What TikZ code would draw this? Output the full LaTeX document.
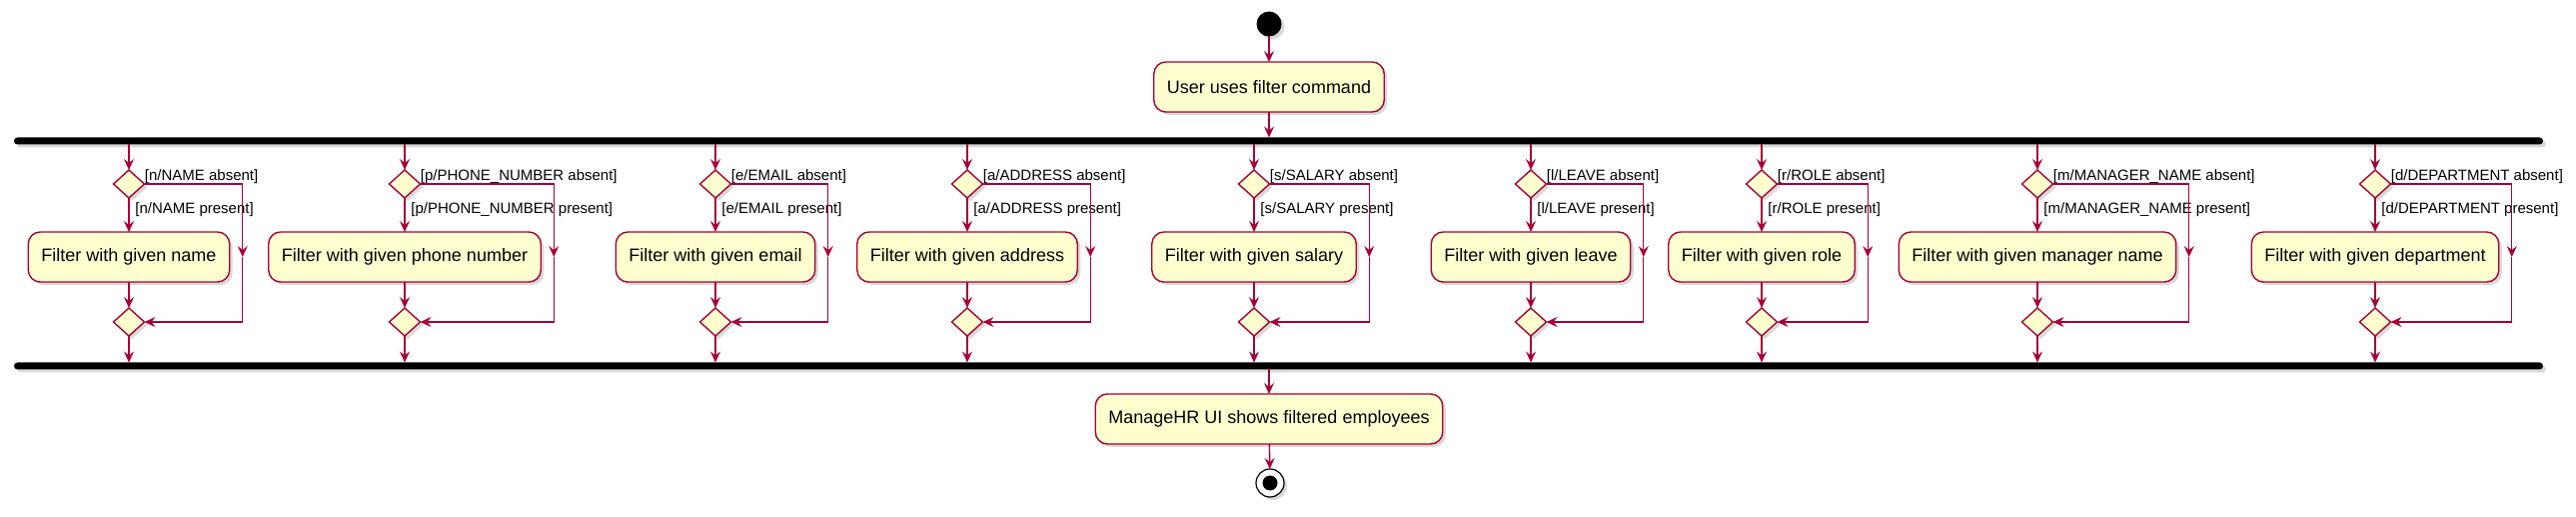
\documentclass[tikz,border=0pt]{standalone}
\usepackage{fontspec}
\setmainfont{Liberation Sans}
\usetikzlibrary{positioning,shapes.geometric,arrows.meta,shadows}
\definecolor{umlred}{HTML}{A80036}
\definecolor{umlfill}{HTML}{FEFECE}

\begin{document}
\begin{tikzpicture}[x=0.5pt,y=-0.5pt,
	umlshadow/.style={drop shadow={shadow xshift=1.5pt,shadow yshift=-1.5pt,opacity=0.3}},
	act/.style={rectangle,rounded corners=6pt,draw=umlred,fill=umlfill,line width=0.7pt,minimum height=25pt,inner xsep=6.6pt,inner ysep=0pt,outer sep=0pt,umlshadow,font=\fontsize{9pt}{11pt}\selectfont},
	choice/.style={diamond,draw=umlred,fill=umlfill,line width=0.7pt,minimum width=15.5pt,minimum height=14pt,inner sep=0pt,outer sep=0pt,umlshadow},
	syncbar/.style={rectangle,rounded corners=1.75pt,fill=black,minimum width=1265.5pt,minimum height=3.5pt,inner sep=0pt,outer sep=0pt,umlshadow},
	guard/.style={inner sep=0pt,font=\fontsize{7.5pt}{9pt}\selectfont},
	flow/.style={draw=umlred,line width=0.7pt,-{Stealth[length=5.5pt,width=5pt,inset=2pt]}}]
		\useasboundingbox (0,0) rectangle (2578,517);
		\node[circle,fill=black,minimum size=12.5pt,inner sep=0pt,outer sep=0pt,umlshadow] (start) at (1270,24) {};
		\node[act] (cmd) at (1270,87) {User uses filter command};
		\node[syncbar] (fork) at (1279.5,141) {};
		\node[syncbar] (join) at (1279.5,366) {};
		\node[act] (shows) at (1270,419) {ManageHR UI shows filtered employees};
		\node[circle,draw=black,fill=white,line width=0.6pt,minimum size=14pt,inner sep=0pt,outer sep=0pt,umlshadow] (stop) at (1271,483) {};
		\node[circle,fill=black,minimum size=7.5pt,inner sep=0pt] (stopdot) at (stop) {};
		\draw[flow] (start) -- (cmd);
		\draw[flow] (cmd) -- (cmd.south |- fork.north);
		\draw[flow] (join.south -| shows) -- (shows);
		\draw[flow] (shows) -- (stop);

		% name
		\node[choice] (d1) at (129,184) {};
		\node[act,below=17pt of d1] (a1) {Filter with given name};
		\node[choice,below=13pt of a1] (m1) {};
		\coordinate (r1) at ([xshift=6.5pt]a1.east);
		\node[guard,anchor=south west] (abs1) at (d1.east) {[n/NAME absent]};
		\node[guard,anchor=north west] (pre1) at ([xshift=3pt,yshift=-2pt]d1.south) {[n/NAME present]};
		\draw[flow] (fork.south -| d1) -- (d1); \draw[flow] (d1) -- (a1); \draw[flow] (a1) -- (m1);
		\draw[flow] (d1.east) -| (r1); \draw[flow] (r1) |- (m1.east); \draw[flow] (m1) -- (join.north -| m1);

		% phone
		\node[choice] (d2) at (405,184) {};
		\node[act,below=17pt of d2] (a2) {Filter with given phone number};
		\node[choice,below=13pt of a2] (m2) {};
		\coordinate (r2) at ([xshift=6.5pt]a2.east);
		\node[guard,anchor=south west] (abs2) at (d2.east) {[p/PHONE\_NUMBER absent]};
		\node[guard,anchor=north west] (pre2) at ([xshift=3pt,yshift=-2pt]d2.south) {[p/PHONE\_NUMBER present]};
		\draw[flow] (fork.south -| d2) -- (d2); \draw[flow] (d2) -- (a2); \draw[flow] (a2) -- (m2);
		\draw[flow] (d2.east) -| (r2); \draw[flow] (r2) |- (m2.east); \draw[flow] (m2) -- (join.north -| m2);

		% email
		\node[choice] (d3) at (716,184) {};
		\node[act,below=17pt of d3] (a3) {Filter with given email};
		\node[choice,below=13pt of a3] (m3) {};
		\coordinate (r3) at ([xshift=6.5pt]a3.east);
		\node[guard,anchor=south west] (abs3) at (d3.east) {[e/EMAIL absent]};
		\node[guard,anchor=north west] (pre3) at ([xshift=3pt,yshift=-2pt]d3.south) {[e/EMAIL present]};
		\draw[flow] (fork.south -| d3) -- (d3); \draw[flow] (d3) -- (a3); \draw[flow] (a3) -- (m3);
		\draw[flow] (d3.east) -| (r3); \draw[flow] (r3) |- (m3.east); \draw[flow] (m3) -- (join.north -| m3);

		% address
		\node[choice] (d4) at (968,184) {};
		\node[act,below=17pt of d4] (a4) {Filter with given address};
		\node[choice,below=13pt of a4] (m4) {};
		\coordinate (r4) at ([xshift=6.5pt]a4.east);
		\node[guard,anchor=south west] (abs4) at (d4.east) {[a/ADDRESS absent]};
		\node[guard,anchor=north west] (pre4) at ([xshift=3pt,yshift=-2pt]d4.south) {[a/ADDRESS present]};
		\draw[flow] (fork.south -| d4) -- (d4); \draw[flow] (d4) -- (a4); \draw[flow] (a4) -- (m4);
		\draw[flow] (d4.east) -| (r4); \draw[flow] (r4) |- (m4.east); \draw[flow] (m4) -- (join.north -| m4);

		% salary
		\node[choice] (d5) at (1255,184) {};
		\node[act,below=17pt of d5] (a5) {Filter with given salary};
		\node[choice,below=13pt of a5] (m5) {};
		\coordinate (r5) at ([xshift=6.5pt]a5.east);
		\node[guard,anchor=south west] (abs5) at (d5.east) {[s/SALARY absent]};
		\node[guard,anchor=north west] (pre5) at ([xshift=3pt,yshift=-2pt]d5.south) {[s/SALARY present]};
		\draw[flow] (fork.south -| d5) -- (d5); \draw[flow] (d5) -- (a5); \draw[flow] (a5) -- (m5);
		\draw[flow] (d5.east) -| (r5); \draw[flow] (r5) |- (m5.east); \draw[flow] (m5) -- (join.north -| m5);

		% leave
		\node[choice] (d6) at (1532,184) {};
		\node[act,below=17pt of d6] (a6) {Filter with given leave};
		\node[choice,below=13pt of a6] (m6) {};
		\coordinate (r6) at ([xshift=6.5pt]a6.east);
		\node[guard,anchor=south west] (abs6) at (d6.east) {[l/LEAVE absent]};
		\node[guard,anchor=north west] (pre6) at ([xshift=3pt,yshift=-2pt]d6.south) {[l/LEAVE present]};
		\draw[flow] (fork.south -| d6) -- (d6); \draw[flow] (d6) -- (a6); \draw[flow] (a6) -- (m6);
		\draw[flow] (d6.east) -| (r6); \draw[flow] (r6) |- (m6.east); \draw[flow] (m6) -- (join.north -| m6);

		% role
		\node[choice] (d7) at (1763,184) {};
		\node[act,below=17pt of d7] (a7) {Filter with given role};
		\node[choice,below=13pt of a7] (m7) {};
		\coordinate (r7) at ([xshift=6.5pt]a7.east);
		\node[guard,anchor=south west] (abs7) at (d7.east) {[r/ROLE absent]};
		\node[guard,anchor=north west] (pre7) at ([xshift=3pt,yshift=-2pt]d7.south) {[r/ROLE present]};
		\draw[flow] (fork.south -| d7) -- (d7); \draw[flow] (d7) -- (a7); \draw[flow] (a7) -- (m7);
		\draw[flow] (d7.east) -| (r7); \draw[flow] (r7) |- (m7.east); \draw[flow] (m7) -- (join.north -| m7);

		% manager
		\node[choice] (d8) at (2039,184) {};
		\node[act,below=17pt of d8] (a8) {Filter with given manager name};
		\node[choice,below=13pt of a8] (m8) {};
		\coordinate (r8) at ([xshift=6.5pt]a8.east);
		\node[guard,anchor=south west] (abs8) at (d8.east) {[m/MANAGER\_NAME absent]};
		\node[guard,anchor=north west] (pre8) at ([xshift=3pt,yshift=-2pt]d8.south) {[m/MANAGER\_NAME present]};
		\draw[flow] (fork.south -| d8) -- (d8); \draw[flow] (d8) -- (a8); \draw[flow] (a8) -- (m8);
		\draw[flow] (d8.east) -| (r8); \draw[flow] (r8) |- (m8.east); \draw[flow] (m8) -- (join.north -| m8);

		% department
		\node[choice] (d9) at (2377,184) {};
		\node[act,below=17pt of d9] (a9) {Filter with given department};
		\node[choice,below=13pt of a9] (m9) {};
		\coordinate (r9) at ([xshift=6.5pt]a9.east);
		\node[guard,anchor=south west] (abs9) at (d9.east) {[d/DEPARTMENT absent]};
		\node[guard,anchor=north west] (pre9) at ([xshift=3pt,yshift=-2pt]d9.south) {[d/DEPARTMENT present]};
		\draw[flow] (fork.south -| d9) -- (d9); \draw[flow] (d9) -- (a9); \draw[flow] (a9) -- (m9);
		\draw[flow] (d9.east) -| (r9); \draw[flow] (r9) |- (m9.east); \draw[flow] (m9) -- (join.north -| m9);
	\end{tikzpicture}
\end{document}
